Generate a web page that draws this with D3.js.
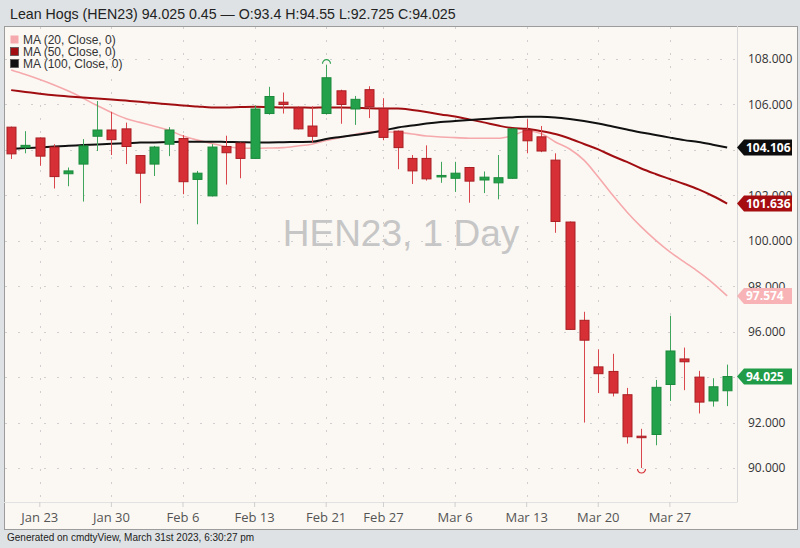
<!DOCTYPE html>
<html><head><meta charset="utf-8">
<script src="https://cdn.jsdelivr.net/npm/d3@7/dist/d3.min.js"></script>
<style>
body{margin:0;background:#dfe2e5;}
svg{display:block;font-family:"Liberation Sans",Arial,Helvetica,sans-serif;}
</style>
</head><body>
<svg id="chart" width="800" height="548"></svg>
<script>
// ---------- data ----------
const dates = ["2023-01-19","2023-01-20","2023-01-23","2023-01-24","2023-01-25","2023-01-26","2023-01-27",
"2023-01-30","2023-01-31","2023-02-01","2023-02-02","2023-02-03","2023-02-06","2023-02-07","2023-02-08",
"2023-02-09","2023-02-10","2023-02-13","2023-02-14","2023-02-15","2023-02-16","2023-02-17","2023-02-21",
"2023-02-22","2023-02-23","2023-02-24","2023-02-27","2023-02-28","2023-03-01","2023-03-02","2023-03-03",
"2023-03-06","2023-03-07","2023-03-08","2023-03-09","2023-03-10","2023-03-13","2023-03-14","2023-03-15",
"2023-03-16","2023-03-17","2023-03-20","2023-03-21","2023-03-22","2023-03-23","2023-03-24","2023-03-27",
"2023-03-28","2023-03-29","2023-03-30","2023-03-31"];
const openP  = [105.0,104.1,104.525,104.125,102.95,103.375,104.6,104.875,104.925,103.75,103.375,104.25,104.5,102.7,101.975,
104.15,104.3,103.625,105.6,106.1,105.85,105.05,105.6,106.6,105.8,106.65,105.825,104.825,103.625,103.625,102.85,
102.75,103.225,102.675,102.55,102.75,104.875,104.575,103.55,100.825,96.5,94.45,94.25,93.225,91.4,91.475,93.675,
94.8,94.0,92.95,93.4];
const highP  = [105.025,104.825,104.55,104.25,103.225,104.475,106.15,105.675,105.2,103.775,104.175,105.0,104.65,103.075,104.25,
104.625,104.325,105.95,106.775,106.525,105.925,105.925,107.75,106.65,106.375,106.8,106.275,104.85,103.775,104.2,103.475,
103.475,103.25,103.05,103.775,104.95,105.35,105.05,103.85,100.85,96.875,95.225,95.025,93.525,91.725,93.875,96.7,
95.3,94.275,93.95,94.55];
const lowP   = [103.6,103.85,103.3,102.3,102.4,101.725,103.95,103.775,103.375,101.65,102.85,103.725,102.05,100.725,101.95,
102.475,102.75,103.6,105.55,105.6,104.9,104.325,105.55,105.15,105.1,105.4,104.425,103.15,102.5,102.65,102.55,
102.15,101.675,102.1,101.825,102.725,103.85,103.9,100.35,96.075,92.0,93.3,93.15,91.075,90.0,91.0,92.95,
93.425,92.4,92.7,92.725];
const closeP = [103.825,104.2,103.725,102.825,103.075,104.175,104.875,104.45,104.15,102.975,104.125,104.875,102.6,102.975,104.125,
103.875,103.625,105.8,106.35,106.0,104.925,104.6,107.175,106.0,106.225,105.9,104.55,104.1,103.075,102.725,102.875,
102.975,102.625,102.8,102.775,104.925,104.4,103.95,100.85,96.1,95.625,94.15,93.3,91.375,91.35,93.55,95.15,
94.675,92.9,93.575,94.025];
const ma20  = [107.52,107.32,107.10,106.86,106.59,106.28,105.95,105.65,105.38,105.21,105.04,104.87,104.61,104.43,104.28,
104.15,104.08,104.07,104.08,104.10,104.17,104.25,104.41,104.55,104.68,104.79,104.80,104.77,104.70,104.61,104.57,
104.54,104.51,104.51,104.51,104.63,104.83,104.72,104.35,104.04,103.55,102.81,102.01,101.27,100.61,100.03,99.51,
99.07,98.63,98.14,97.574];
const ma50  = [106.63,106.55,106.47,106.40,106.35,106.31,106.26,106.22,106.17,106.12,106.06,106.01,105.95,105.91,105.87,
105.87,105.89,105.90,105.89,105.87,105.87,105.86,105.87,105.87,105.86,105.83,105.82,105.82,105.76,105.67,105.56,
105.47,105.34,105.21,105.07,104.96,104.93,104.83,104.70,104.50,104.26,104.02,103.73,103.47,103.18,102.94,102.72,
102.50,102.26,101.97,101.636];
const ma100 = [104.05,104.08,104.11,104.15,104.18,104.21,104.24,104.27,104.29,104.32,104.33,104.35,104.36,104.36,104.36,
104.35,104.34,104.33,104.33,104.34,104.35,104.36,104.48,104.57,104.66,104.74,104.85,104.99,105.07,105.16,105.23,
105.27,105.32,105.36,105.40,105.43,105.46,105.46,105.43,105.36,105.27,105.16,105.03,104.90,104.77,104.66,104.54,
104.43,104.35,104.23,104.106];
const xTickDates  = ["2023-01-23","2023-01-30","2023-02-06","2023-02-13","2023-02-21","2023-02-27","2023-03-06","2023-03-13","2023-03-20","2023-03-27"];
const xTickLabels = ["Jan 23","Jan 30","Feb 6","Feb 13","Feb 21","Feb 27","Mar 6","Mar 13","Mar 20","Mar 27"];
const yTicks = [90,92,94,96,98,100,102,104,106,108];
const legendLabels = ["MA (20, Close, 0)","MA (50, Close, 0)","MA (100, Close, 0)"];
const titleText = "Lean Hogs (HEN23) 94.025 0.45 \u2014 O:93.4 H:94.55 L:92.725 C:94.025";
const watermark = "HEN23, 1 Day";
const footerText = "Generated on cmdtyView, March 31st 2023, 6:30:27 pm";

// ---------- layout ----------
const svg = d3.select("#chart");
const panel = {x0:4, y0:26, x1:797, y1:529};
const plot = {x0:5, y0:27, x1:737, y1:502};
const UP = "#23a04a", UPS = "#1c8a3c", DN = "#d63036", DNS = "#a91e23";
const C20 = "#f6a9ac", C50 = "#a10e12", C100 = "#111111";

const x = d3.scaleBand().domain(dates).range([4, 4 + dates.length*14.32]).padding(0);
const cx = d => x(d) + x.bandwidth()/2;
const y = d3.scaleLinear().domain([90,108]).range([468,59]);

// price tags definitions
const tags = [
  {v:ma100[ma100.length-1], c:"#0d0d0d"},
  {v:ma50[ma50.length-1], c:"#a50d10"},
  {v:ma20[ma20.length-1], c:"#f8b3b6"},
  {v:closeP[closeP.length-1], c:"#209c48"}
];

// title
svg.append("text").attr("x",10).attr("y",19).attr("font-size",14.2).attr("fill","#222").text(titleText);

// panel
svg.append("rect").attr("x",panel.x0+0.5).attr("y",panel.y0+0.5).attr("width",panel.x1-panel.x0).attr("height",panel.y1-panel.y0)
  .attr("fill","#fbf8f3").attr("stroke","#9c9c9c");

// grid
const grid = svg.append("g");
grid.selectAll("line.h").data(yTicks).join("line")
  .attr("x1",plot.x0).attr("x2",plot.x1).attr("y1",d=>Math.round(y(d))+0.5).attr("y2",d=>Math.round(y(d))+0.5)
  .attr("stroke","#cfcfcf").attr("stroke-dasharray","2,11");
grid.selectAll("line.v").data(xTickDates).join("line")
  .attr("x1",d=>Math.round(cx(d))+0.5).attr("x2",d=>Math.round(cx(d))+0.5).attr("y1",plot.y0).attr("y2",plot.y1)
  .attr("stroke","#cfcfcf").attr("stroke-dasharray","2,11");

// axis separators
svg.append("line").attr("x1",737.5).attr("x2",737.5).attr("y1",panel.y0).attr("y2",plot.y1).attr("stroke","#d9d9d9");
svg.append("line").attr("x1",panel.x0).attr("x2",737.5).attr("y1",plot.y1+0.5).attr("y2",plot.y1+0.5).attr("stroke","#e2e2e2");

// x axis
const xAxis = d3.axisBottom(x).tickValues(xTickDates).tickFormat((d)=>xTickLabels[xTickDates.indexOf(d)]).tickSize(5).tickPadding(6);
const gx = svg.append("g").attr("transform",`translate(0,${plot.y1})`).call(xAxis);
gx.select(".domain").remove();
gx.selectAll(".tick line").attr("stroke","#cfcfcf");
gx.selectAll(".tick text").attr("fill","#555").attr("font-size",13)
  .attr("font-family","'Liberation Sans Narrow','Open Sans',Arial,sans-serif");

// y axis (labels fully covered by a price tag are not drawn, as in the reference)
const covered = v => tags.some(t => Math.abs(y(t.v) - y(v)) < 5);
const yAxis = d3.axisRight(y).tickValues(yTicks).tickFormat(v => covered(v) ? "" : d3.format(".3f")(v)).tickSize(0).tickPadding(11);
const gy = svg.append("g").attr("transform","translate(737,0)").call(yAxis);
gy.select(".domain").remove();
gy.selectAll(".tick text").attr("fill","#333").attr("font-size",12).attr("font-family","'Open Sans','Liberation Sans',Arial,sans-serif");

// watermark
svg.append("text").attr("x",401).attr("y",246).attr("text-anchor","middle").attr("font-size",37)
  .attr("fill","#c6c6c6").text(watermark);

// clip
svg.append("clipPath").attr("id","clip").append("rect").attr("x",plot.x0).attr("y",plot.y0).attr("width",plot.x1-plot.x0).attr("height",plot.y1-plot.y0);
const g = svg.append("g").attr("clip-path","url(#clip)");

// MA lines
const line = arr => d3.line().x((d,i)=>cx(dates[i])).y(d=>y(d)).curve(d3.curveMonotoneX)(arr);
g.append("path").attr("d",line(ma20)).attr("fill","none").attr("stroke",C20).attr("stroke-width",1.6);
g.append("path").attr("d",line(ma50)).attr("fill","none").attr("stroke",C50).attr("stroke-width",2);
g.append("path").attr("d",line(ma100)).attr("fill","none").attr("stroke",C100).attr("stroke-width",2);

// candles
const idx = d3.range(dates.length);
const up = i => closeP[i] >= openP[i];
g.selectAll("line.wick").data(idx).join("line")
  .attr("x1",i=>Math.round(cx(dates[i]))+0.5).attr("x2",i=>Math.round(cx(dates[i]))+0.5)
  .attr("y1",i=>y(highP[i])).attr("y2",i=>y(lowP[i]))
  .attr("stroke",i=>up(i)?"#3fa55c":"#d9474c").attr("stroke-width",1);
const bw = 9;
g.selectAll("rect.body").data(idx).join("rect")
  .attr("x",i=>Math.round(cx(dates[i]))-bw/2+0.5)
  .attr("y",i=>y(Math.max(openP[i],closeP[i])))
  .attr("width",bw)
  .attr("height",i=>Math.max(1.5, y(Math.min(openP[i],closeP[i]))-y(Math.max(openP[i],closeP[i]))))
  .attr("fill",i=>up(i)?UP:DN).attr("stroke",i=>up(i)?UPS:DNS).attr("stroke-width",1);

// high / low markers
const hi = d3.maxIndex(highP), lo = d3.minIndex(lowP);
svg.append("path").attr("d",d3.arc()({innerRadius:4,outerRadius:4,startAngle:-Math.PI/2,endAngle:Math.PI/2}))
  .attr("transform",`translate(${Math.round(cx(dates[hi]))+0.5},${y(highP[hi])-1})`).attr("fill","none").attr("stroke","#2e9e50").attr("stroke-width",1.2);
svg.append("path").attr("d",d3.arc()({innerRadius:4,outerRadius:4,startAngle:Math.PI/2,endAngle:Math.PI*1.5}))
  .attr("transform",`translate(${Math.round(cx(dates[lo]))+0.5},${y(lowP[lo])+1})`).attr("fill","none").attr("stroke","#d63036").attr("stroke-width",1.2);

// legend
const lg = svg.append("g");
[C20,C50,C100].forEach((c,k)=>{
  lg.append("rect").attr("x",10.5).attr("y",35.5+k*12).attr("width",8).attr("height",8).attr("fill",c).attr("stroke",k==0?"#f3a0a4":"#555").attr("stroke-width",k==0?0:0.8);
  lg.append("text").attr("x",23).attr("y",44+k*12).attr("font-size",12).attr("fill","#333").text(legendLabels[k]);
});

// price tags
tags.forEach(t=>{
  const cy = y(t.v);
  const h = 8;
  svg.append("path").attr("d",`M737,${cy} L744,${cy-h} L792,${cy-h} L792,${cy+h} L744,${cy+h} Z`).attr("fill",t.c);
  svg.append("text").attr("x",746).attr("y",cy+4.3).attr("font-size",12).attr("font-weight","bold")
    .attr("fill","#fff").attr("font-family","'Open Sans','Liberation Sans',Arial,sans-serif").text(d3.format(".3f")(t.v));
});

// footer
svg.append("text").attr("x",7).attr("y",541).attr("font-size",10).attr("fill","#222").text(footerText);
</script>
</body></html>
